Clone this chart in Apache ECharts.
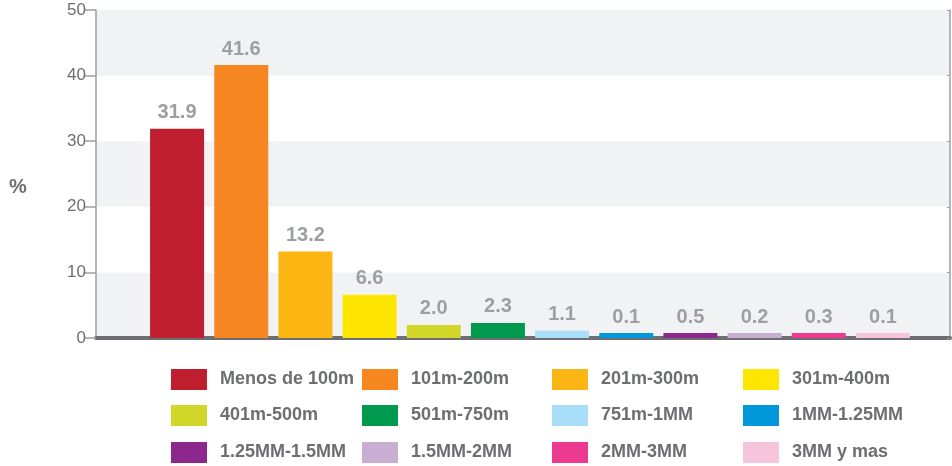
<!DOCTYPE html>
<html>
<head>
<meta charset="utf-8">
<script src="https://cdn.jsdelivr.net/npm/echarts@6/dist/echarts.min.js"></script>
<style>
  html, body { margin: 0; padding: 0; background: #fff; }
  #chart { width: 952px; height: 466px; }
</style>
</head>
<body>
<div id="chart"></div>
<script>
// categories (legend names) and values
const categories = [
  "Menos de 100m", "101m-200m", "201m-300m", "301m-400m",
  "401m-500m", "501m-750m", "751m-1MM", "1MM-1.25MM",
  "1.25MM-1.5MM", "1.5MM-2MM", "2MM-3MM", "3MM y mas"
];
const values = [31.9, 41.6, 13.2, 6.6, 2.0, 2.3, 1.1, 0.1, 0.5, 0.2, 0.3, 0.1];
const colors = [
  "#BE1E2D", "#F58620", "#FBB614", "#FFE600",
  "#D2D628", "#009A4E", "#A8DEF7", "#0098DA",
  "#8B278D", "#C8AED3", "#EC3A91", "#F6C4DB"
];
const yTicks = [0, 10, 20, 30, 40, 50];

const font = "Liberation Sans, Arial, sans-serif";
const darkGray = "#6d6e71";

const chart = echarts.init(document.getElementById("chart"));

// one series per category, stacked so they share the slot
const series = categories.map((name, i) => ({
  name: name,
  type: "bar",
  xAxisIndex: 1,
  yAxisIndex: 2,
  stack: "all",
  barWidth: 54,
  barMinHeight: 5,
  data: values.map((v, j) => (j === i ? v : "-")),
  itemStyle: { color: colors[i] },
  label: {
    show: true,
    position: "top",
    distance: 6,
    formatter: p => p.value.toFixed(1),
    fontFamily: font,
    fontWeight: "bold",
    fontSize: 20,
    color: "#9d9fa2"
  }
}));

// legend grid: 4 columns x 3 rows, one legend per item
const legendCols = [171, 362, 552, 743];
const legendRows = [369, 405, 442];
const legends = categories.map((name, i) => ({
  left: legendCols[i % 4],
  top: legendRows[Math.floor(i / 4)],
  padding: 0,
  itemWidth: 36,
  itemHeight: 21,
  icon: "rect",
  selectedMode: false,
  data: [name],
  textStyle: {
    fontFamily: font,
    fontWeight: "bold",
    fontSize: 18,
    color: darkGray,
    padding: [0, 0, 0, 8]
  }
}));

const option = {
  animation: false,
  title: {
    text: "%",
    left: 4,
    top: 172,
    textStyle: { fontFamily: font, fontWeight: "bold", fontSize: 20, color: darkGray }
  },
  legend: legends,
  grid: [
    { left: 96, right: 2, top: 10, bottom: 128 },
    { left: 145, right: 37, top: 10, bottom: 128 }
  ],
  xAxis: [
    {
      type: "category",
      gridIndex: 0,
      data: [""],
      axisLine: { show: true, lineStyle: { color: darkGray, width: 4 } },
      axisTick: { show: false },
      axisLabel: { show: false }
    },
    {
      type: "category",
      gridIndex: 1,
      data: categories,
      axisLine: { show: false },
      axisTick: { show: false },
      axisLabel: { show: false }
    }
  ],
  yAxis: [
    {
      type: "value",
      gridIndex: 0,
      min: yTicks[0],
      max: yTicks[yTicks.length - 1],
      interval: 10,
      axisLine: { show: true, lineStyle: { color: "#9d9fa2", width: 1.5 } },
      axisTick: { show: true, length: 11, lineStyle: { color: "#9d9fa2", width: 1.5 } },
      axisLabel: { fontFamily: font, fontSize: 17, color: "#6d6e71", margin: 10 },
      splitLine: { show: false },
      splitArea: { show: true, areaStyle: { color: ["#F1F2F4", "#FFFFFF"] } }
    },
    {
      type: "value",
      gridIndex: 0,
      position: "right",
      min: 0,
      max: 50,
      interval: 10,
      axisLine: { show: true, lineStyle: { color: "#9d9fa2", width: 1.5 } },
      axisTick: { show: true, inside: true, length: 3, lineStyle: { color: "#9d9fa2" } },
      axisLabel: { show: false },
      splitLine: { show: false }
    },
    {
      type: "value",
      gridIndex: 1,
      min: 0,
      max: 50,
      interval: 10,
      show: false
    }
  ],
  series: series
};

chart.setOption(option);
window.addEventListener("resize", () => chart.resize());
</script>
</body>
</html>
